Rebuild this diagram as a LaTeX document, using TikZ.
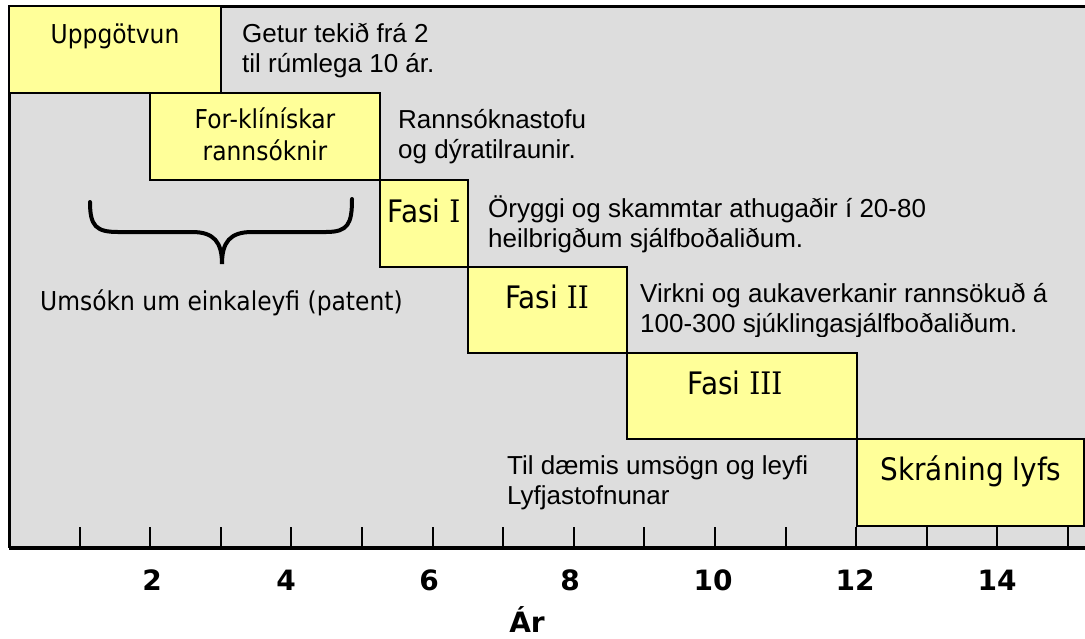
\documentclass[tikz,border=0pt]{standalone}
\usepackage{fontspec}
\setmainfont{DejaVu Sans}
\newfontfamily\narrowsans[FakeStretch=0.9]{DejaVu Sans}
\newfontfamily\arial{Liberation Sans}
\newfontfamily\iser[FakeStretch=0.9]{DejaVu Serif}
\definecolor{bggray}{HTML}{DDDDDD}
\definecolor{boxyellow}{HTML}{FFFF99}
\newcommand{\sI}{{\iser I}}
\tikzset{
  phase/.style={draw=black, line width=2.5pt, fill=boxyellow},
  vtext/.style={font=\narrowsans\fontsize{26}{32}\selectfont, inner sep=0pt, align=center},
  ftext/.style={font=\narrowsans\fontsize{31}{34}\selectfont, inner sep=0pt},
  atext/.style={font=\arial\fontsize{26}{30}\selectfont, inner sep=0pt, align=left, anchor=base west},
  tickline/.style={line width=2pt},
  ticklabel/.style={font=\bfseries\fontsize{28}{30}\selectfont, inner sep=0pt, anchor=base}
}
\begin{document}
\begin{tikzpicture}[x=1pt,y=-1pt]
\useasboundingbox (0,0) rectangle (1085,638);
\clip (0,0) rectangle (1085,638);
% background panel
\fill[bggray] (9,6) rectangle (1095,548);
\draw[line width=3pt] (1095,6) -- (9,6) -- (9,548);
% phase boxes
\draw[phase] (9,6) rectangle (221,93);
\draw[phase] (150,93) rectangle (380,180);
\draw[phase] (380,180) rectangle (468,267);
\draw[phase] (468,267) rectangle (627,353);
\draw[phase] (627,353) rectangle (857,439);
\draw[phase] (857,439) rectangle (1084,526);
% box labels
\node[vtext, anchor=base] (upp) at (115,43) {Uppgötvun};
\node[vtext, anchor=base] (forkl) at (265,160) {For-klínískar\\rannsóknir};
\node[ftext, anchor=base] (f1) at (424,222) {Fasi \sI};
\node[ftext, anchor=base] (f2) at (547,308) {Fasi \sI\sI};
\node[ftext, anchor=base] (f3) at (735,394) {Fasi \sI\sI\sI};
\node[ftext, anchor=base] (skr) at (971,480) {Skráning lyfs};
% descriptions
\node[atext] (t1) at (242,72) {Getur tekið frá 2\\til rúmlega 10 ár.};
\node[atext] (t2) at (398,158) {Rannsóknastofu\\og dýratilraunir.};
\node[atext] (t3) at (488,247) {Öryggi og skammtar athugaðir í 20-80\\heilbrigðum sjálfboðaliðum.};
\begin{scope}
\clip (620,260) rectangle (1085,336);
\node[atext] (t4) at (640,332) {Virkni og aukaverkanir rannsökuð á\\100-300 sjúklingasjálfboðaliðum.};
\end{scope}
\node[atext] (t5) at (507,504) {Til dæmis umsögn og leyfi\\Lyfjastofnunar};
\node[vtext, anchor=base west] (pat) at (40,310) {Umsókn um einkaleyfi (patent)};
% brace
\draw[line width=4pt, line cap=round]
  (90,202) .. controls (90,226) and (96,232) .. (118,232)
  -- (192,232) .. controls (214,232) and (222,242) .. (222,264)
  .. controls (222,242) and (230,232) .. (252,232)
  -- (326,232) .. controls (348,232) and (352,224) .. (352,199);
% axis
\foreach \k in {1,...,15} {
  \draw[tickline] ({9+70.6*\k},527) -- ({9+70.6*\k},548);
}
\draw[line width=4pt] (9,548) -- (1095,548);
\foreach \k/\x in {2/152,4/286,6/429,8/570,10/713,12/855,14/997} {
  \node[ticklabel] (lab\k) at (\x,590) {\k};
}
\node[ticklabel] (ar) at (527,632) {Ár};
\end{tikzpicture}
\end{document}
